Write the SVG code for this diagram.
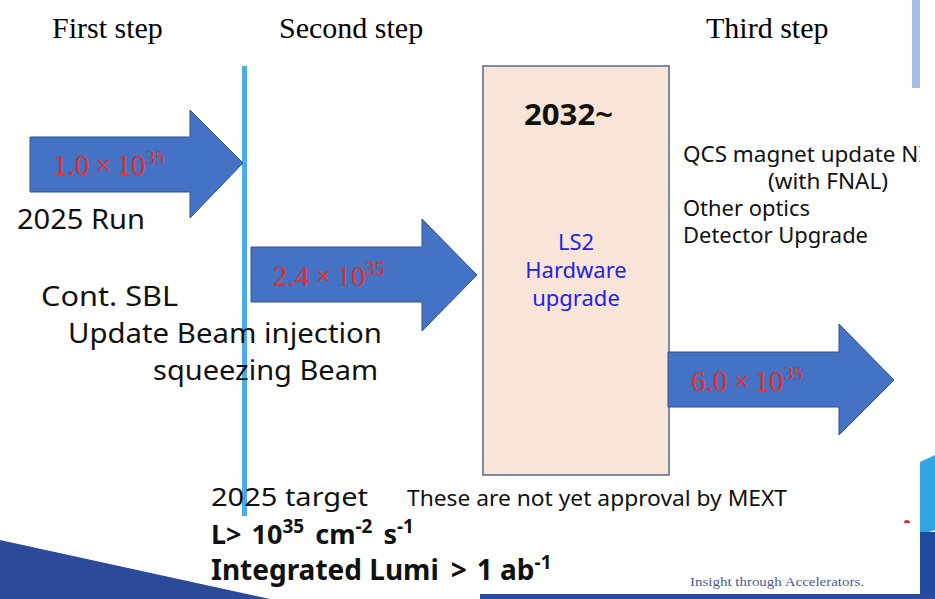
<svg xmlns="http://www.w3.org/2000/svg" width="935" height="599" viewBox="0 0 935 599">
<style>
.arrow{fill:#4472C4;stroke:#2F528F;stroke-width:1}
.step{font-family:"Liberation Serif",serif;font-size:30px;fill:#000}
.red{font-family:"Liberation Serif",serif;font-size:29px;fill:#E3302B}
.sup{font-size:19px}
.sans{font-family:"Noto Sans","Noto Sans CJK JP",sans-serif;fill:#111}
.blue{font-family:"Noto Sans","Noto Sans CJK JP",sans-serif;font-size:22px;fill:#2222E6;text-anchor:middle}
</style>
<defs>
<clipPath id="slide"><rect x="0" y="0" width="920" height="599"/></clipPath>
</defs>
<rect width="935" height="599" fill="#fff"/>
<g id="decor">
<rect x="912" y="0" width="8" height="88" fill="#A4BFE3"/>
<polygon points="0,540 0,599 270,599" fill="#2B4A9A"/>
<polygon points="920,462 935,455 935,530 920,535" fill="#2FA6E0"/>
<rect x="920" y="532" width="15" height="67" fill="#1F4A9E"/>
<rect x="480" y="594" width="455" height="5" fill="#2B4A9A"/>
<path d="M904,523 a3,3 0 0 1 6,0 z" fill="#E32B2B"/>
</g>
<g id="timeline">
<rect x="242" y="66" width="5" height="450" fill="#4BACE8"/>
</g>
<g id="box-ls2">
<rect x="483" y="66" width="186" height="409" fill="#F8E5D8" stroke="#5A6A8A" stroke-width="1.5"/>
<text x="524" y="125" class="sans" font-size="29" font-weight="bold" textLength="89" lengthAdjust="spacingAndGlyphs">2032~</text>
<text x="576" y="250" class="blue">LS2</text>
<text x="576" y="278" class="blue">Hardware</text>
<text x="576" y="306" class="blue">upgrade</text>
</g>
<g id="arrow1">
<polygon class="arrow" points="30,137 190,137 190,110 243,163 190,218 190,192 30,192"/>
<text x="53" y="175" class="red">1.0<tspan dx="6">×</tspan><tspan dx="5">10</tspan><tspan class="sup" dy="-11">35</tspan></text>
</g>
<g id="arrow2">
<polygon class="arrow" points="251,247 422,247 422,219 477,275 422,331 422,302 251,302"/>
<text x="273" y="286" class="red">2.4<tspan dx="6">×</tspan><tspan dx="5">10</tspan><tspan class="sup" dy="-11">35</tspan></text>
</g>
<g id="arrow3">
<polygon class="arrow" points="668,352 839,352 839,324 894,380 839,435 839,407 668,407"/>
<text x="691" y="391" class="red">6.0<tspan dx="6">×</tspan><tspan dx="5">10</tspan><tspan class="sup" dy="-11">35</tspan></text>
</g>
<g id="labels">
<text x="52" y="38" class="step">First step</text>
<text x="279" y="38" class="step">Second step</text>
<text x="706" y="38" class="step">Third step</text>
<text x="17" y="229" class="sans" font-size="27" textLength="128" lengthAdjust="spacingAndGlyphs">2025 Run</text>
<text x="41" y="306" class="sans" font-size="27" textLength="137" lengthAdjust="spacingAndGlyphs">Cont. SBL</text>
<text x="68" y="343" class="sans" font-size="27" textLength="314" lengthAdjust="spacingAndGlyphs">Update Beam injection</text>
<text x="153" y="380" class="sans" font-size="27" textLength="225" lengthAdjust="spacingAndGlyphs">squeezing Beam</text>
<g clip-path="url(#slide)">
<text x="683" y="162" class="sans" font-size="21" textLength="243" lengthAdjust="spacingAndGlyphs">QCS magnet update NI</text>
</g>
<text x="768" y="189" class="sans" font-size="21" textLength="120" lengthAdjust="spacingAndGlyphs">(with FNAL)</text>
<text x="683" y="216" class="sans" font-size="21" textLength="127" lengthAdjust="spacingAndGlyphs">Other optics</text>
<text x="683" y="243" class="sans" font-size="21" textLength="185" lengthAdjust="spacingAndGlyphs">Detector Upgrade</text>
<text x="211" y="506" class="sans" font-size="26" textLength="157" lengthAdjust="spacingAndGlyphs">2025 target</text>
<text x="407" y="506" class="sans" font-size="21" textLength="380" lengthAdjust="spacingAndGlyphs">These are not yet approval by MEXT</text>
<text x="211" y="544" class="sans" font-size="27" font-weight="bold">L&gt;<tspan dx="10">10</tspan><tspan font-size="19" dy="-11">35</tspan><tspan dy="11" dx="4"> cm</tspan><tspan font-size="19" dy="-11">-2</tspan><tspan dy="11" dx="4"> s</tspan><tspan font-size="19" dy="-11">-1</tspan></text>
<text x="211" y="580" class="sans" font-size="28" font-weight="bold">Integrated Lumi<tspan dx="12">&gt;</tspan><tspan dx="10">1 ab</tspan><tspan font-size="19" dy="-11">-1</tspan></text>
<text x="690" y="586" font-family="Liberation Serif,serif" font-size="13" fill="#4A5A9A" textLength="174" lengthAdjust="spacingAndGlyphs">Insight through Accelerators.</text>
</g>
</svg>
